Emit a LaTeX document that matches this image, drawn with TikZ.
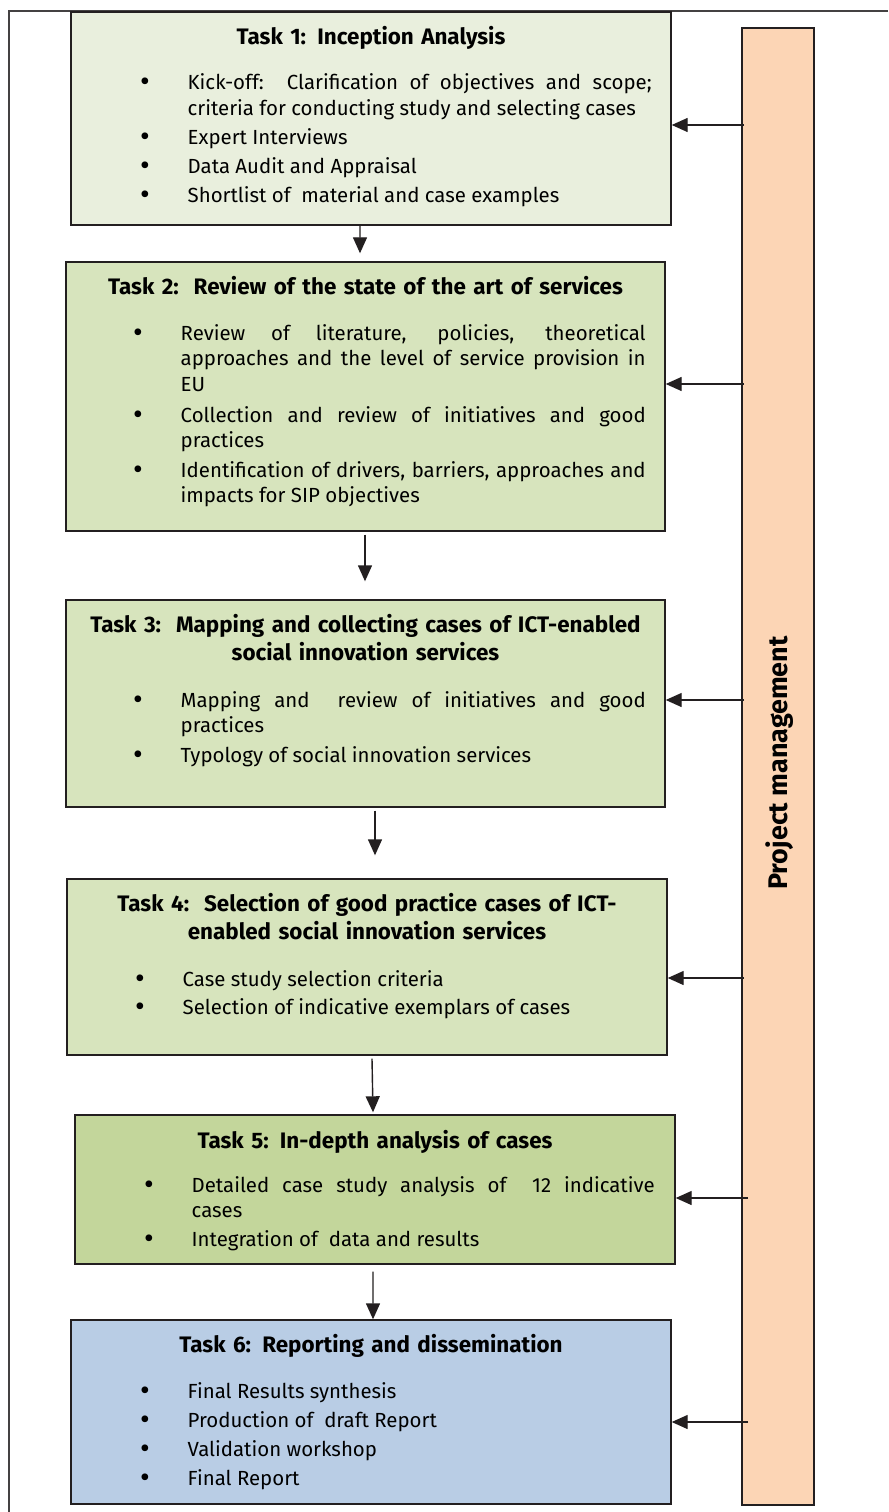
\documentclass[tikz,border=0pt]{standalone}
\usepackage{fontspec}
\setmainfont{Fira Sans}
\usepackage{tikz}
\usetikzlibrary{arrows.meta,positioning}
\definecolor{linec}{HTML}{231F20}
\definecolor{inception}{HTML}{E9EFDD}
\definecolor{review}{HTML}{D7E4BD}
\definecolor{indepth}{HTML}{C3D69B}
\definecolor{report}{HTML}{B9CDE5}
\definecolor{pmfill}{HTML}{FCD5B5}
\newcommand{\bul}{\llap{\raisebox{-2bp}{\fontsize{30}{26}\selectfont\textbullet}\hspace{38bp}}}
\hbadness=10000

\begin{document}
\begin{tikzpicture}[x=1bp, y=-1bp, line width=1.4bp,
	task/.style={draw=linec, inner sep=0pt},
	title/.style={anchor=base, text width=590bp, align=center, font=\bfseries\fontsize{22.5}{28.5}\selectfont},
	item/.style={anchor=base west, inner sep=0pt, text width=#1, align=justify, font=\fontsize{20.5}{26}\selectfont},
	item/.default=464bp,
	flow/.style={draw=linec, -{Triangle[length=16bp,width=14bp]}},
	feed/.style={draw=linec, -{Triangle[length=16bp,width=14bp]}}]
	\useasboundingbox (0,0) rectangle (888,1512);
	\fill[white] (0,0) rectangle (888,1512);
	\draw[linec!85, line width=1.2bp] (888,11) -- (9,11) -- (9,1512);

	% task boxes
	\node (t1) [task, fill=inception, minimum width=600bp, minimum height=213bp] at (371,118.5) {};
	\node (t2) [task, fill=review, minimum width=599bp, minimum height=269bp] at (365.5,396.5) {};
	\node (t3) [task, fill=review, minimum width=599bp, minimum height=207bp] at (365.5,703.5) {};
	\node (t4) [task, fill=review, minimum width=600bp, minimum height=176bp] at (367,967) {};
	\node (t5) [task, fill=indepth, minimum width=600bp, minimum height=149bp] at (375,1189.5) {};
	\node (t6) [task, fill=report, minimum width=600bp, minimum height=184bp] at (371,1412) {};
	\node (pm) [task, fill=pmfill, minimum width=72bp, minimum height=1477bp] at (778,766.5) {};
	\node (pmtext) [rotate=90, font=\bfseries\fontsize{27}{28}\selectfont] at (780,763) {Project management};

	\node (t1title) [title] at (371,45) {Task 1: Inception Analysis};
	\node (t1a) [item] at (187,90) {\bul Kick-off:\ \ Clarification of objectives and scope;\linebreak criteria for conducting study and selecting cases};
	\node (t1b) [item] at (187,145) {\bul Expert Interviews};
	\node (t1c) [item] at (187,174) {\bul Data Audit and Appraisal};
	\node (t1d) [item] at (187,203) {\bul Shortlist of\ \ material and case examples};

	\node (t2title) [title] at (365.5,294) {Task 2:\ \ Review of the state of the art of services};
	\node (t2a) [item=465bp] at (180,340) {\bul Review of literature, policies, theoretical\linebreak approaches and the level of service provision in\linebreak EU};
	\node (t2b) [item=465bp] at (180,422) {\bul Collection and review of initiatives and good\linebreak practices};
	\node (t2c) [item=465bp] at (180,477) {\bul Identification of drivers, barriers, approaches and\linebreak impacts for SIP objectives};

	\node (t3title) [title] at (365.5,632) {Task 3:\ \ Mapping and collecting cases of ICT-enabled\\social innovation services};
	\node (t3a) [item=465bp] at (180,707) {\bul Mapping and\ \ review of initiatives and good\linebreak practices};
	\node (t3b) [item=465bp] at (180,762) {\bul Typology of social innovation services};

	\node (t4title) [title] at (367,911) {Task 4:\ \ Selection of good practice cases of ICT-\\enabled social innovation services};
	\node (t4a) [item=465bp] at (182,986) {\bul Case study selection criteria};
	\node (t4b) [item=465bp] at (182,1014) {\bul Selection of indicative exemplars of cases};

	\node (t5title) [title] at (375,1148) {Task 5: In-depth analysis of cases};
	\node (t5a) [item=463bp] at (191,1192) {\bul Detailed case study analysis of\ \ 12 indicative\linebreak cases};
	\node (t5b) [item=463bp] at (191,1246) {\bul Integration of\ \ data and results};

	\node (t6title) [title] at (371,1352) {Task 6: Reporting and dissemination};
	\node (t6a) [item] at (187,1398) {\bul Final Results synthesis};
	\node (t6b) [item] at (187,1427) {\bul Production of\ \ draft Report};
	\node (t6c) [item] at (187,1456) {\bul Validation workshop};
	\node (t6d) [item] at (187,1485) {\bul Final Report};

	% flow between tasks
	\draw[flow] ([xshift=-11bp]t1.south) -- ([xshift=-5.5bp, yshift=8bp]t2.north);
	\draw[flow] ([xshift=-0.5bp, yshift=-3bp]t2.south) -- ([xshift=-0.5bp, yshift=18bp]t3.north);
	\draw[flow] ([xshift=9.5bp, yshift=-3bp]t3.south) -- ([xshift=8bp, yshift=23bp]t4.north);
	\draw[flow] ([xshift=5bp, yshift=-3bp]t4.south) -- ([xshift=-2bp, yshift=2bp]t5.north);
	\draw[flow] ([xshift=-2bp, yshift=-7bp]t5.south) -- ([xshift=2bp]t6.north);

	% project management feeds every task
	\foreach \i/\y/\x in {1/125/744, 2/384/744, 3/700/744, 4/978/744, 5/1198/748, 6/1422/748} {
		\coordinate (pm\i) at (\x,\y);
		\draw[feed] (pm\i) -- (t\i.east |- pm\i);
	}
\end{tikzpicture}
\end{document}
